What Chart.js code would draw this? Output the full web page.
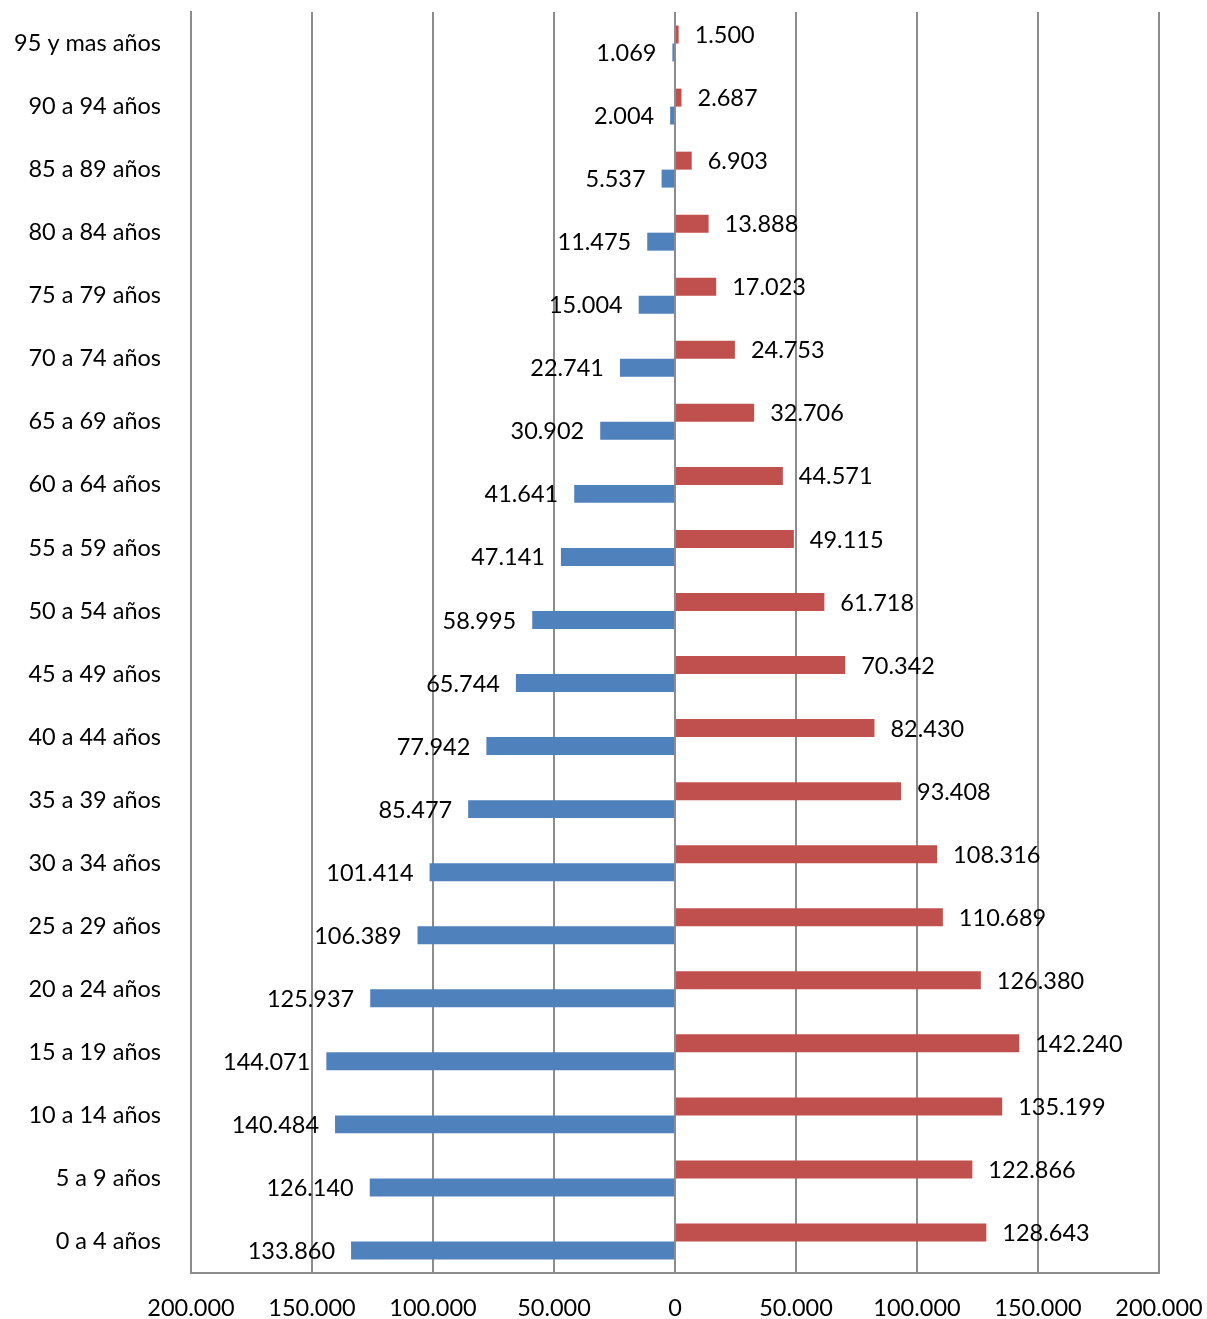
<!DOCTYPE html>
<html>
<head>
<meta charset="utf-8">
<script src="https://cdn.jsdelivr.net/npm/chart.js@4.4.1/dist/chart.umd.min.js"></script>
<style>
  html, body { margin: 0; padding: 0; background: #ffffff; }
  #wrap { width: 1207px; height: 1319px; position: relative; }
</style>
</head>
<body>
<div id="wrap"><canvas id="c" width="1207" height="1319"></canvas></div>
<script>
const categories = [
  "95 y mas años", "90 a 94 años", "85 a 89 años", "80 a 84 años", "75 a 79 años",
  "70 a 74 años", "65 a 69 años", "60 a 64 años", "55 a 59 años", "50 a 54 años",
  "45 a 49 años", "40 a 44 años", "35 a 39 años", "30 a 34 años", "25 a 29 años",
  "20 a 24 años", "15 a 19 años", "10 a 14 años", "5 a 9 años", "0 a 4 años"
];
const mujeres = [
  1500, 2687, 6903, 13888, 17023, 24753, 32706, 44571, 49115, 61718,
  70342, 82430, 93408, 108316, 110689, 126380, 142240, 135199, 122866, 128643
];
const hombres = [
  1069, 2004, 5537, 11475, 15004, 22741, 30902, 41641, 47141, 58995,
  65744, 77942, 85477, 101414, 106389, 125937, 144071, 140484, 126140, 133860
];
const xTicks = [-200000, -150000, -100000, -50000, 0, 50000, 100000, 150000, 200000];

const FONT = "Lato, 'Open Sans', sans-serif";
const FSIZE = 23.5;
const fmt = v => Math.abs(v).toString().replace(/\B(?=(\d{3})+(?!\d))/g, ".");

const labelPlugin = {
  id: 'barLabels',
  afterDatasetsDraw(chart) {
    const ctx = chart.ctx;
    ctx.save();
    ctx.font = FSIZE + "px " + FONT;
    ctx.fillStyle = "#000000";
    ctx.textBaseline = "middle";
    chart.data.datasets.forEach((ds, di) => {
      const meta = chart.getDatasetMeta(di);
      meta.data.forEach((bar, i) => {
        const v = ds.data[i];
        if (v >= 0) {
          ctx.textAlign = "left";
          ctx.fillText(fmt(v), bar.x + 16, bar.y + 1);
        } else {
          ctx.textAlign = "right";
          ctx.fillText(fmt(v), bar.x - 16, bar.y + 1);
        }
      });
    });
    ctx.restore();
  }
};

function zeroPad(scale) {
  scale.paddingTop = 0; scale.paddingBottom = 0;
  scale.paddingLeft = 0; scale.paddingRight = 0;
}

new Chart(document.getElementById('c'), {
  type: 'bar',
  data: {
    labels: categories,
    datasets: [
      { label: 'Mujeres', data: mujeres, backgroundColor: '#C0504D', borderWidth: 0,
        categoryPercentage: 0.57, barPercentage: 1.0 },
      { label: 'Hombres', data: hombres.map(v => -v), backgroundColor: '#4F81BD', borderWidth: 0,
        categoryPercentage: 0.57, barPercentage: 1.0 }
    ]
  },
  options: {
    indexAxis: 'y',
    responsive: false,
    animation: false,
    devicePixelRatio: 1,
    layout: { padding: { top: 12, right: 48, left: 0, bottom: 0 } },
    plugins: { legend: { display: false }, tooltip: { enabled: false } },
    scales: {
      x: {
        min: -200000, max: 200000,
        afterBuildTicks(scale) { scale.ticks = xTicks.map(v => ({ value: v })); },
        afterFit(scale) { scale.height = 46; zeroPad(scale); },
        grid: { color: '#8c8c8c', lineWidth: 2, drawTicks: false },
        border: { display: true, color: '#8c8c8c', width: 2 },
        ticks: {
          color: '#000000', font: { family: FONT, size: FSIZE }, padding: 21,
          maxRotation: 0, autoSkip: false,
          callback: v => fmt(v)
        }
      },
      y: {
        afterFit(scale) { scale.width = 191; zeroPad(scale); },
        grid: { display: false, drawTicks: false },
        border: { display: true, color: '#8c8c8c', width: 2 },
        ticks: { color: '#000000', font: { family: FONT, size: FSIZE }, padding: 30, autoSkip: false }
      }
    }
  },
  plugins: [labelPlugin]
});
</script>
</body>
</html>
